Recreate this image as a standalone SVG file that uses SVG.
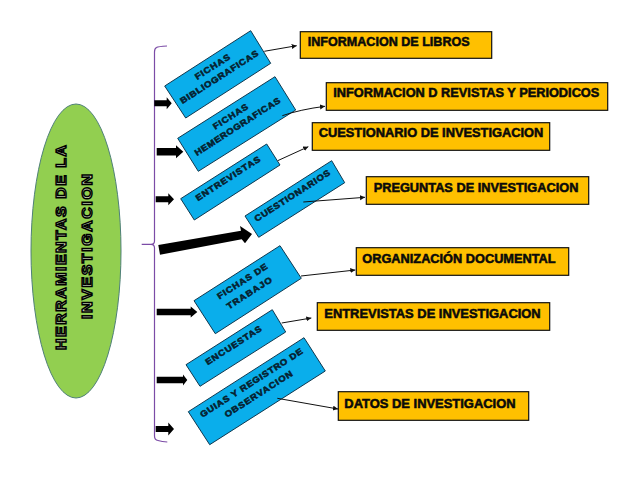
<svg xmlns="http://www.w3.org/2000/svg" width="638" height="493" viewBox="0 0 638 493">
<style>
text{font-family:"Liberation Sans",Arial,sans-serif;font-weight:700}
.blue{fill:#0AAEEB;stroke:#10384f;stroke-width:1}
.org{fill:#FFC000;stroke:#111;stroke-width:1.2}
.ot{font-size:13px;fill:#0a0a0a;stroke:#0a0a0a;stroke-width:.55}
.bt{font-size:8.5px;fill:#06212f;stroke:#06212f;stroke-width:.55;text-anchor:middle}
.ht{font-size:15px;fill:#c9d6b4;text-anchor:middle;stroke:#000;stroke-width:1.400}
.thin{fill:none;stroke:#111;stroke-width:1;marker-end:url(#ah)}
.block{fill:#000}
</style>
<defs>
<marker id="ah" markerUnits="userSpaceOnUse" markerWidth="6" markerHeight="6" refX="5" refY="2.5" orient="auto"><path d="M0 0L5 2.500L0 5z" fill="#111"/></marker>
</defs>
<rect width="638" height="493" fill="#fff"/>
<g id="root-node">
<ellipse cx="76" cy="251" rx="45" ry="147" fill="#92CF50" stroke="#4f8078" stroke-width="1"/>
<text class="ht" transform="translate(66.300 247.5) rotate(-90) scale(1.06 1)" textLength="193.400">HERRAMIENTAS DE LA</text>
<text class="ht" transform="translate(91.800 246.5) rotate(-90) scale(1.06 1)" textLength="136.800">INVESTIGACION</text>
</g>
<g id="brace"><path d="M167 46Q158 46.500 156.500 47.500Q154.500 48.500 154.500 52L154.500 241Q154.500 244.300 151 244.300L141.700 244.300L151 244.300Q154.500 244.300 154.500 248L154.500 436Q154.500 440 158 440.500Q162 441.800 167.300 442" fill="none" stroke="#7B4BA6" stroke-width="1.200"/></g>
<g id="fichas-bibliograficas"><path class="blue" d="M250.700 30.700L270.700 63.300L185.700 118L164.700 86z"/>
<text class="bt" transform="translate(214 69.300) rotate(-32.700) scale(1.12 1)" textLength="35.700">FICHAS</text>
<text class="bt" transform="translate(220.800 79.500) rotate(-32.700) scale(1.12 1)" textLength="81.300">BIBLIOGRAFICAS</text></g>
<g id="fichas-hemerograficas"><path class="blue" d="M275 76.700L295.700 110L198.300 171.300L177.700 138.300z"/>
<text class="bt" transform="translate(232 119) rotate(-32.700) scale(1.12 1)" textLength="35.700">FICHAS</text>
<text class="bt" transform="translate(239 129) rotate(-32.700) scale(1.12 1)" textLength="89.300">HEMEROGRAFICAS</text></g>
<g id="entrevistas"><path class="blue" d="M266.700 144L280 165L194.300 220L180.700 198.700z"/>
<text class="bt" transform="translate(229.500 181) rotate(-32.700) scale(1.12 1)" textLength="67">ENTREVISTAS</text></g>
<g id="cuestionarios"><path class="blue" d="M331.700 160.700L344.700 182.700L258.700 237.300L245 216z"/>
<text class="bt" transform="translate(293.800 198.200) rotate(-32.700) scale(1.12 1)" textLength="78.600">CUESTIONARIOS</text></g>
<g id="fichas-trabajo"><path class="blue" d="M280 245.700L301.300 278.300L215.300 333.700L194 300.700z"/>
<text class="bt" transform="translate(243.800 283.800) rotate(-32.700) scale(1.12 1)" textLength="51.800">FICHAS DE</text>
<text class="bt" transform="translate(250.800 295.500) rotate(-32.700) scale(1.12 1)" textLength="46.400">TRABAJO</text></g>
<g id="encuestas"><path class="blue" d="M272.300 309.700L285.700 332L200 386.300L186 364.700z"/>
<text class="bt" transform="translate(235.100 347.800) rotate(-32.700) scale(1.12 1)" textLength="58">ENCUESTAS</text></g>
<g id="guias-registro"><path class="blue" d="M304 337.700L325.300 371L209.700 444.700L188.300 411.700z"/>
<text class="bt" transform="translate(253 385.300) rotate(-32.700) scale(1.12 1)" textLength="107.100">GUIAS Y REGISTRO DE</text>
<text class="bt" transform="translate(260.100 396.500) rotate(-32.700) scale(1.12 1)" textLength="70.500">OBSERVACION</text></g>
<g id="info-libros"><rect class="org" x="300.300" y="31.700" width="191.400" height="26.600"/><text class="ot" x="307.700" y="46" textLength="162" lengthAdjust="spacingAndGlyphs">INFORMACION DE LIBROS</text></g>
<g id="info-revistas"><rect class="org" x="326.300" y="82.700" width="281.400" height="27.600"/><text class="ot" x="333.300" y="97.300" textLength="266" lengthAdjust="spacingAndGlyphs">INFORMACION D REVISTAS Y PERIODICOS</text></g>
<g id="cuestionario-inv"><rect class="org" x="312.300" y="122.700" width="237.400" height="27.600"/><text class="ot" x="318.700" y="137.300" textLength="224.700" lengthAdjust="spacingAndGlyphs">CUESTIONARIO DE INVESTIGACION</text></g>
<g id="preguntas-inv"><rect class="org" x="366.300" y="176.700" width="222.400" height="27.600"/><text class="ot" x="373.700" y="192.300" textLength="204.700" lengthAdjust="spacingAndGlyphs">PREGUNTAS DE INVESTIGACION</text></g>
<g id="organizacion-doc"><rect class="org" x="356.300" y="247.700" width="212.400" height="27.600"/><text class="ot" x="362.300" y="263.300" textLength="193.300" lengthAdjust="spacingAndGlyphs">ORGANIZACIÓN DOCUMENTAL</text></g>
<g id="entrevistas-inv"><rect class="org" x="317.300" y="302.700" width="232.400" height="27.600"/><text class="ot" x="324.300" y="318.300" textLength="216.400" lengthAdjust="spacingAndGlyphs">ENTREVISTAS DE INVESTIGACION</text></g>
<g id="datos-inv"><rect class="org" x="338.300" y="391.700" width="190.400" height="28.600"/><text class="ot" x="344.300" y="408.300" textLength="171.300" lengthAdjust="spacingAndGlyphs">DATOS DE INVESTIGACION</text></g>
<g id="connectors">
<path class="block" d="M154.300 100.300H166.700V97.300L171.700 103.300L166.700 109.300V106.300H154.300z"/>
<path class="block" d="M156.700 148H176V145.200L183.300 151.700L176 158.200V155.400H156.700z"/>
<path class="block" d="M155.700 196.300H168.300V193.300L174 199.300L168.300 205.300V202.300H155.700z"/>
<path class="block" d="M158.300 245L241 230.700L240 226L252 234L245 243.300L241.700 239.300L160 254.700z"/>
<path class="block" d="M156.700 308.800H190.700V306.500L197.300 312L190.700 317.500V315.200H156.700z"/>
<path class="block" d="M156.700 376.800H183V374.500L187.300 380L183 385.500V383.200H156.700z"/>
<path class="block" d="M155.700 426H168.300V422.500L174 429L168.300 435.500V432H155.700z"/>
<path class="thin" d="M264.300 51.300L296.700 45.700"/>
<path class="thin" d="M282.300 115.700Q300 109.500 325 106.300"/>
<path class="thin" d="M277.700 160.700L308.300 146.700"/>
<path class="thin" d="M303.300 202L365 197.300"/>
<path class="thin" d="M301 276L355.300 270"/>
<path class="thin" d="M281.700 323L311.300 318"/>
<path class="thin" d="M277.300 398.300L338 409"/>
</g>
</svg>
